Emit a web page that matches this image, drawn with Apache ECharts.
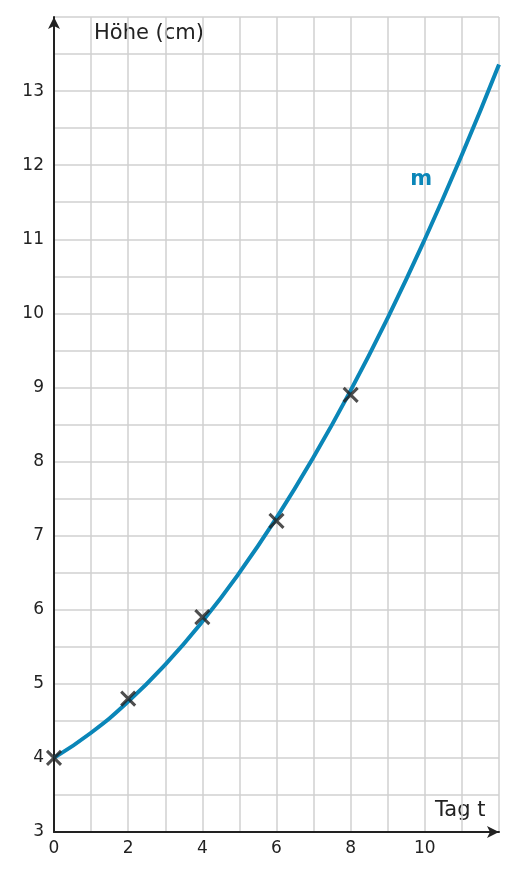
<!DOCTYPE html>
<html><head><meta charset="utf-8">
<script src="https://cdn.jsdelivr.net/npm/echarts@6/dist/echarts.min.js"></script>
<style>html,body{margin:0;padding:0;background:#fff}#c{width:516px;height:881px}</style>
</head><body><div id="c"></div>
<script>
const measuredDays = [0, 2, 4, 6, 8];
const measuredHeights = [4.0, 4.8, 5.9, 7.2, 8.9];
const curveDays = [0, 1, 2, 3, 4, 5, 6, 7, 8, 9, 10, 11, 12];
const curveHeights = [4.0, 4.34, 4.76, 5.26, 5.84, 6.5, 7.24, 8.06, 8.96, 9.94, 11.0, 12.14, 13.36];
const xLabels = ['0', '2', '4', '6', '8', '10'];
const yLabels = ['3','4','5','6','7','8','9','10','11','12','13'];
const seriesName = 'm';

const chart = echarts.init(document.getElementById('c'));
const font = 'DejaVu Sans';
chart.setOption({
  animation: false,
  grid: {left: 54, right: 17, top: 17, bottom: 49},
  xAxis: {
    type: 'value', min: 0, max: 12, interval: 1,
    axisLine: {show: true, onZero: false, symbol: ['none', 'arrow'], symbolSize: [9, 12], lineStyle: {color: '#222', width: 2}},
    axisTick: {show: false},
    axisLabel: {fontFamily: font, fontSize: 17, color: '#222', margin: 8,
      formatter: v => xLabels.includes(String(v)) ? String(v) : ''},
    splitLine: {show: true, lineStyle: {color: '#d0d0d0', width: 1.5}}
  },
  yAxis: {
    type: 'value', min: 3, max: 14, interval: 0.5,
    axisLine: {show: true, onZero: false, symbol: ['none', 'arrow'], symbolSize: [9, 12], lineStyle: {color: '#222', width: 2}},
    axisTick: {show: false},
    axisLabel: {fontFamily: font, fontSize: 17, color: '#222', margin: 10,
      formatter: v => yLabels.includes(String(v)) ? String(v) : ''},
    splitLine: {show: true, lineStyle: {color: '#d0d0d0', width: 1.5}}
  },
  graphic: [
    {type: 'text', left: 94, top: 23, style: {text: 'Höhe (cm)', font: '21px DejaVu Sans', fill: '#222'}},
    {type: 'text', left: 435, top: 800, style: {text: 'Tag t', font: '21px DejaVu Sans', fill: '#222'}}
  ],
  series: [
    {type: 'line', name: seriesName, smooth: true, symbol: 'none',
     data: curveDays.map((d, i) => [d, curveHeights[i]]),
     lineStyle: {color: '#0a86b8', width: 4},
     markPoint: {symbol: 'circle', symbolSize: 1, itemStyle: {color: 'rgba(0,0,0,0)'},
       data: [{coord: [9.9, 11.8]}],
       label: {show: true, position: 'inside', formatter: seriesName, color: '#0a86b8', fontWeight: 'bold', fontSize: 21, fontFamily: font}}
    },
    {type: 'scatter', symbol: 'path://M0,0L10,10M10,0L0,10', symbolSize: 14,
     data: measuredDays.map((d, i) => [d, measuredHeights[i]]),
     itemStyle: {color: 'none', borderColor: '#222', borderWidth: 3}, z: 5}
  ]
});
</script></body></html>
